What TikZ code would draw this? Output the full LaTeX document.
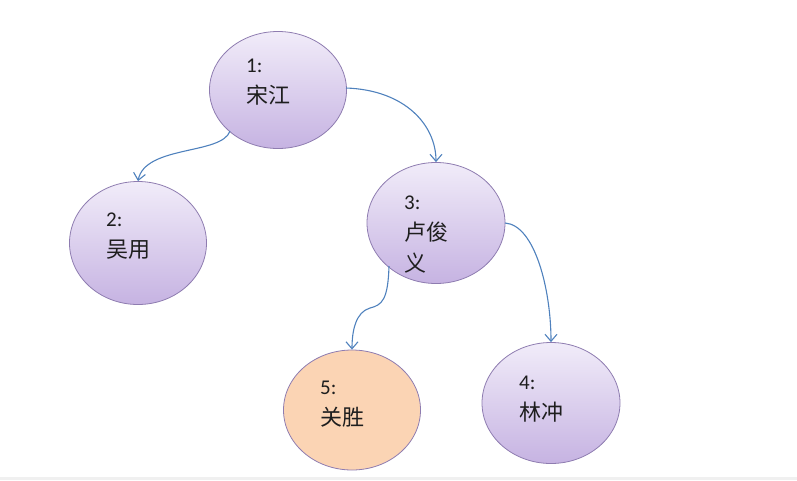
\documentclass[tikz,border=0pt]{standalone}
\usepackage{fontspec}
\setmainfont{Carlito}
\newfontfamily\cjk{Noto Sans CJK SC}
\usetikzlibrary{shapes.geometric,arrows.meta}
\definecolor{nodeborder}{HTML}{8E7CB0}
\definecolor{nodetop}{HTML}{F1ECF9}
\definecolor{nodebottom}{HTML}{C6B3E2}
\definecolor{peach}{HTML}{FBD4B4}
\definecolor{arrowblue}{HTML}{4F81BD}
\definecolor{textgray}{HTML}{1E1E1E}
\tikzset{
  person/.style={ellipse, draw=nodeborder, line width=0.8pt, top color=nodetop, bottom color=nodebottom},
  hero/.style={ellipse, draw=nodeborder, line width=0.8pt, fill=peach},
  lbl/.style={anchor=north west, inner sep=0pt, align=left, text=textgray, font=\fontsize{21}{31}\selectfont},
  link/.style={draw=arrowblue, line width=1.1pt, -{Straight Barb[length=7pt,width=12pt]}}
}
\newcommand{\zh}[1]{{\cjk\fontsize{22}{31}\selectfont #1}}
\begin{document}
\begin{tikzpicture}[x=1pt,y=-1pt]
\useasboundingbox (0,0) rectangle (797,480);
\fill[black!6] (0,477) rectangle (797,480);
% ellipses
\node[person, minimum width=137pt, minimum height=117pt] (n1) at (278,90) {};
\node[person, minimum width=137pt, minimum height=123pt] (n2) at (138,243) {};
\node[person, minimum width=138pt, minimum height=121pt] (n3) at (436,223) {};
\node[hero, minimum width=137pt, minimum height=120pt] (n5) at (352,410) {};
\node[person, minimum width=138pt, minimum height=121pt] (n4) at (551,403) {};
% labels
\node[lbl] (t1) at (246,59) {1:\\\zh{宋江}};
\node[lbl] (t2) at (106,213) {2:\\\zh{吴用}};
\node[lbl] (t3) at (404,196) {3:\\\zh{卢俊}\\\zh{义}};
\node[lbl] (t5) at (320,381) {5:\\\zh{关胜}};
\node[lbl] (t4) at (519,376) {4:\\\zh{林冲}};
% connectors
\coordinate (s12) at (230,131);
\coordinate (s13) at (346,88);
\coordinate (s34) at (505,223);
\coordinate (s35) at (389,266);
\coordinate (m35) at (370,308);
\draw[link] (s12) .. controls (222,155) and (145,145) .. (n2.north);
\draw[link] (s13) .. controls (405,90) and (436,125) .. (n3.north);
\draw[link] (s34) .. controls (535,225) and (551,290) .. (n4.north);
\draw[draw=arrowblue, line width=1.1pt] (s35) .. controls (388,300) and (382,305) .. (m35);
\draw[link] (m35) .. controls (356,312) and (352,330) .. (n5.north);
\end{tikzpicture}
\end{document}
